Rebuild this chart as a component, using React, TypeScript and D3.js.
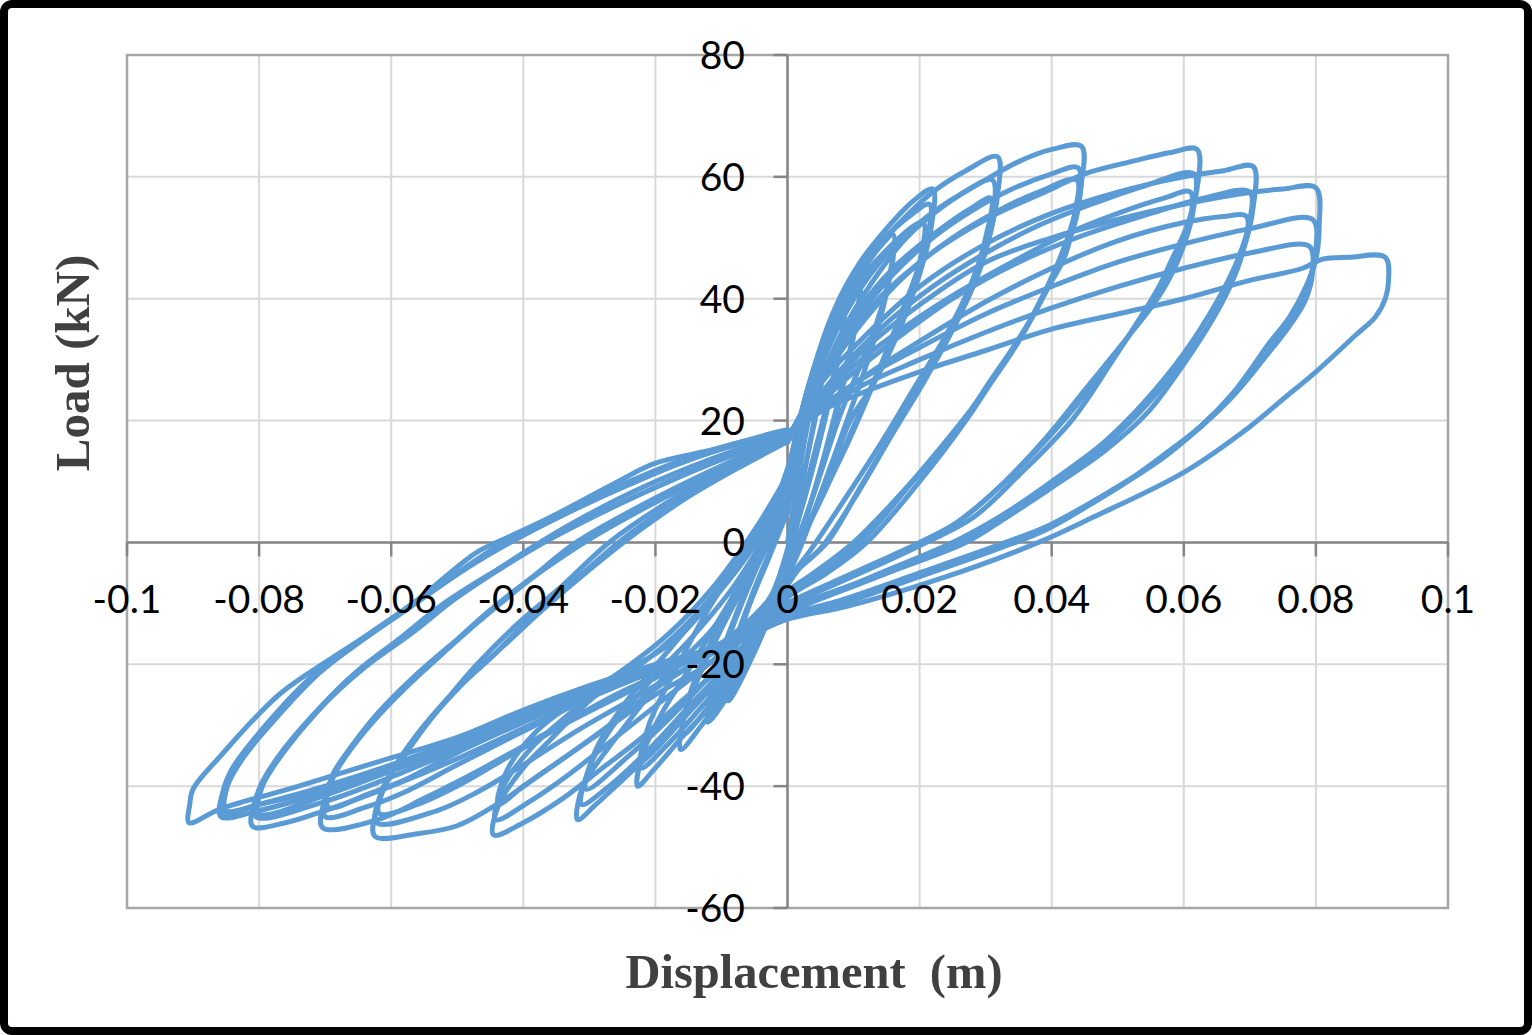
import * as d3 from 'd3'

type Pt = [number, number]

const X_TICKS = [-0.1, -0.08, -0.06, -0.04, -0.02, 0, 0.02, 0.04, 0.06, 0.08, 0.1]
const X_LABELS = ['-0.1', '-0.08', '-0.06', '-0.04', '-0.02', '0', '0.02', '0.04', '0.06', '0.08', '0.1']
const Y_TICKS = [-60, -40, -20, 0, 20, 40, 60, 80]

// cycles, [displacement (m), load (kN)], grouped by drift level
const LOOP_1: Pt[][] = [
  [[0, 0], [0.002, 13], [0.004, 25], [0.0055, 33], [0.0052, 28], [0.0035, 17], [0.0015, 6], [0, -2], [-0.002, -10], [-0.005, -18], [-0.009, -26], [-0.0085, -20], [-0.006, -11], [-0.003, -3], [0, 5]],
  [[0, 5], [0.002, 16], [0.004, 26], [0.0055, 31], [0.005, 25], [0.003, 14], [0.001, 3], [-0.002, -8], [-0.005, -16], [-0.0088, -24], [-0.0083, -18], [-0.0055, -9], [-0.0025, -1], [0, 6]],
]
const LOOP_2: Pt[][] = [
  [[0, 6], [0.002, 18], [0.0045, 29], [0.007, 36.5], [0.0085, 40], [0.0082, 34], [0.006, 23], [0.003, 10], [0.001, 1], [-0.002, -9], [-0.006, -19], [-0.0095, -26], [-0.0121, -29.5], [-0.0112, -23], [-0.008, -13], [-0.005, -5], [-0.002, 2], [0, 8]],
  [[0, 8], [0.003, 22], [0.006, 32], [0.0085, 37.5], [0.0078, 31], [0.0052, 18], [0.002, 5], [-0.001, -5], [-0.005, -15], [-0.009, -23], [-0.0118, -27.5], [-0.0108, -21], [-0.0075, -11], [-0.004, -2], [0, 8]],
]
const LOOP_3: Pt[][] = [
  [[0, 8], [0.003, 23], [0.006, 33], [0.009, 40.5], [0.011, 44], [0.0106, 38], [0.0085, 27], [0.0055, 14], [0.0025, 3], [-0.001, -7], [-0.005, -16], [-0.009, -24], [-0.013, -30], [-0.0162, -34], [-0.0155, -28], [-0.013, -21], [-0.009, -12], [-0.005, -4], [-0.002, 3], [0, 9]],
  [[0, 9], [0.004, 27], [0.008, 37], [0.011, 41.5], [0.0102, 35], [0.0078, 23], [0.0045, 10], [0.0015, 0], [-0.002, -9], [-0.007, -19], [-0.012, -27], [-0.0158, -31.5], [-0.0148, -25], [-0.011, -15], [-0.0065, -5], [-0.0025, 3], [0, 10]],
]
const LOOP_4: Pt[][] = [
  [[0, 10], [0.003, 25], [0.007, 37], [0.011, 44], [0.014, 48.5], [0.016, 50.5], [0.0155, 44], [0.0135, 36], [0.011, 29], [0.008, 21], [0.004, 8], [0.001, -1], [-0.002, -9], [-0.006, -18], [-0.011, -26], [-0.016, -32], [-0.02, -37], [-0.0227, -40], [-0.022, -35], [-0.019, -28], [-0.015, -21], [-0.01, -12], [-0.005, -3], [-0.002, 4], [0, 10]],
  [[0, 10], [0.004, 28], [0.008, 38], [0.012, 44.5], [0.0158, 48], [0.015, 41], [0.0125, 31], [0.009, 20], [0.005, 8], [0.0015, -2], [-0.002, -10], [-0.007, -19], [-0.013, -27], [-0.018, -33], [-0.0222, -37], [-0.021, -30], [-0.017, -21], [-0.012, -11], [-0.006, -1], [-0.002, 6], [0, 11]],
]
const LOOP_5: Pt[][] = [
  [[0, 11], [0.003, 25], [0.007, 38], [0.011, 46], [0.015, 51.5], [0.019, 56], [0.022, 58], [0.0218, 52], [0.02, 44], [0.017, 35], [0.013, 26], [0.0095, 20], [0.006, 10], [0.002, 0], [0, -5], [-0.005, -15], [-0.01, -22], [-0.015, -28], [-0.02, -34], [-0.025, -39], [-0.029, -43], [-0.0318, -45.5], [-0.031, -40], [-0.028, -35], [-0.025, -30.7], [-0.019, -22.5], [-0.012, -15], [-0.007, -8], [-0.003, 0], [0, 9]],
  [[0, 9], [0.004, 27], [0.009, 41], [0.014, 49], [0.019, 54], [0.0215, 55.5], [0.021, 49], [0.018, 39], [0.0145, 30], [0.01, 19], [0.0055, 8], [0.001, -2], [-0.003, -11], [-0.009, -20], [-0.015, -27], [-0.021, -34], [-0.027, -40], [-0.0312, -43], [-0.03, -37], [-0.027, -31], [-0.021, -23], [-0.014, -15], [-0.008, -7], [-0.003, 2], [0, 10]],
  [[0, 10], [0.005, 29], [0.01, 41], [0.015, 48], [0.0205, 52.5], [0.02, 46], [0.017, 37], [0.013, 26], [0.009, 16], [0.004, 5], [0, -4], [-0.005, -13], [-0.011, -21], [-0.018, -29], [-0.024, -35], [-0.0305, -40.5], [-0.029, -34], [-0.025, -27], [-0.019, -19], [-0.012, -10], [-0.006, -2], [-0.002, 5], [0, 11]],
]
const LOOP_6: Pt[][] = [
  [[0, 11], [0.003, 25], [0.007, 37], [0.012, 46.5], [0.017, 52.5], [0.022, 57.5], [0.027, 61], [0.0318, 63.3], [0.0318, 57], [0.0305, 50], [0.028, 42], [0.024, 33], [0.017, 20], [0.011, 9], [0.006, 0], [0.002, -4], [0, -7], [-0.005, -15], [-0.01, -20.5], [-0.016, -26], [-0.022, -32], [-0.028, -37], [-0.034, -42], [-0.04, -46], [-0.0445, -48], [-0.0437, -43], [-0.04, -37], [-0.036, -32.5], [-0.03, -26], [-0.024, -21], [-0.017, -16], [-0.011, -9], [-0.006, -2], [-0.002, 6], [0, 12]],
  [[0, 12], [0.004, 26], [0.009, 38], [0.014, 46], [0.02, 52.5], [0.026, 57], [0.031, 59.5], [0.0312, 54], [0.0295, 46], [0.026, 37], [0.021, 27], [0.016, 18], [0.01, 7], [0.005, -1], [0, -6], [-0.006, -14], [-0.012, -20], [-0.019, -26], [-0.026, -32], [-0.033, -38], [-0.039, -42.5], [-0.0442, -45.5], [-0.043, -40], [-0.039, -34], [-0.034, -29], [-0.028, -24], [-0.021, -19], [-0.014, -12], [-0.008, -4], [-0.003, 4], [0, 12]],
  [[0, 12], [0.005, 27], [0.01, 37], [0.016, 45], [0.022, 50.5], [0.028, 55], [0.0308, 56.5], [0.03, 50], [0.028, 43], [0.024, 34], [0.019, 25], [0.014, 16], [0.008, 6], [0.003, -2], [0, -6], [-0.006, -13], [-0.013, -19], [-0.02, -24], [-0.027, -30], [-0.034, -35.5], [-0.04, -40], [-0.0438, -43], [-0.0425, -37.5], [-0.038, -31], [-0.032, -26], [-0.025, -21], [-0.018, -15], [-0.011, -7], [-0.005, 2], [0, 11]],
]
const LOOP_7: Pt[][] = [
  [[0, 11], [0.004, 24], [0.008, 34], [0.013, 43], [0.018, 50], [0.024, 55.5], [0.03, 59.5], [0.035, 62.5], [0.04, 64.5], [0.0445, 65], [0.0445, 59], [0.043, 52], [0.041, 46], [0.037, 37], [0.033, 30], [0.027, 20], [0.02, 10], [0.012, 0], [0.006, -5], [0, -9], [-0.006, -15], [-0.012, -20], [-0.02, -25], [-0.028, -31], [-0.036, -37], [-0.044, -43], [-0.05, -46.5], [-0.056, -47.8], [-0.0625, -48.2], [-0.062, -43], [-0.06, -38], [-0.056, -31.5], [-0.051, -25], [-0.047, -20], [-0.041, -13.5], [-0.034, -7], [-0.027, 0], [-0.019, 6], [-0.011, 11], [-0.004, 15], [0, 17]],
  [[0, 17], [0.005, 27], [0.01, 36], [0.016, 44], [0.022, 50], [0.028, 54.5], [0.034, 58], [0.04, 60.5], [0.044, 61.5], [0.0442, 56], [0.0425, 49], [0.04, 43], [0.036, 35], [0.031, 27], [0.026, 19], [0.019, 10], [0.011, 0], [0.005, -5], [0, -9], [-0.008, -16], [-0.016, -21], [-0.024, -26], [-0.032, -31], [-0.04, -36.5], [-0.047, -41], [-0.053, -44], [-0.0622, -46], [-0.0615, -41], [-0.059, -36], [-0.055, -30], [-0.05, -24], [-0.045, -19], [-0.039, -12.5], [-0.032, -6], [-0.025, 0.5], [-0.017, 6.5], [-0.009, 11.5], [-0.003, 15], [0, 17]],
  [[0, 17], [0.006, 28], [0.012, 37], [0.018, 44], [0.025, 50], [0.032, 54.5], [0.038, 57.5], [0.0438, 59.5], [0.0435, 54], [0.042, 47], [0.039, 41], [0.035, 33], [0.03, 25], [0.025, 18], [0.018, 9], [0.01, 0], [0.004, -5], [0, -8], [-0.008, -15.5], [-0.016, -20], [-0.025, -25], [-0.034, -30], [-0.042, -35], [-0.05, -40], [-0.056, -43], [-0.0618, -44.5], [-0.061, -40], [-0.058, -35], [-0.054, -29], [-0.049, -23], [-0.043, -17], [-0.037, -11], [-0.03, -4.5], [-0.023, 1.5], [-0.015, 7.5], [-0.007, 12.5], [0, 16.5]],
]
const LOOP_8: Pt[][] = [
  [[0, 16.5], [0.005, 27], [0.01, 35.5], [0.02, 46], [0.03, 53], [0.04, 58], [0.045, 60.5], [0.052, 62.5], [0.058, 64], [0.062, 64.5], [0.062, 58], [0.0605, 52], [0.058, 46], [0.056, 41.5], [0.049, 29.5], [0.043, 20], [0.035, 11], [0.028, 4], [0.021, 0], [0.011, -5], [0, -10], [-0.008, -16], [-0.016, -20], [-0.026, -25], [-0.036, -31], [-0.046, -37], [-0.055, -42], [-0.062, -45.5], [-0.0704, -46.8], [-0.07, -42], [-0.068, -37], [-0.064, -31], [-0.058, -24], [-0.053, -19], [-0.046, -12], [-0.039, -6], [-0.032, 0], [-0.024, 5], [-0.015, 10], [-0.007, 14], [0, 17]],
  [[0, 17], [0.007, 27], [0.014, 35], [0.022, 42], [0.03, 47.5], [0.038, 52], [0.046, 55.5], [0.054, 58.5], [0.0615, 60.5], [0.0615, 55], [0.06, 49], [0.057, 43], [0.053, 36], [0.047, 27], [0.041, 19], [0.033, 10], [0.026, 3.5], [0.02, 0], [0.01, -5], [0, -10], [-0.01, -16.5], [-0.02, -21], [-0.03, -25.5], [-0.04, -31], [-0.05, -36.5], [-0.058, -41], [-0.064, -43.5], [-0.07, -45], [-0.0695, -40], [-0.067, -35], [-0.063, -29.5], [-0.057, -23], [-0.051, -17], [-0.044, -10.5], [-0.037, -4.5], [-0.03, 0.5], [-0.021, 6], [-0.012, 11], [-0.005, 15], [0, 16.5]],
  [[0, 16.5], [0.008, 27], [0.016, 34], [0.025, 40.5], [0.034, 46], [0.042, 50.5], [0.05, 54], [0.057, 56.5], [0.061, 57.5], [0.0608, 52], [0.059, 46], [0.056, 40], [0.051, 33], [0.045, 25], [0.039, 17], [0.031, 8], [0.024, 2], [0.019, -1], [0.009, -6], [0, -10.5], [-0.01, -16.5], [-0.02, -20.5], [-0.03, -24.5], [-0.04, -29.5], [-0.05, -34.5], [-0.058, -39], [-0.064, -41.5], [-0.0695, -43.5], [-0.069, -38.5], [-0.066, -33.5], [-0.062, -28], [-0.056, -21.5], [-0.049, -15], [-0.042, -8.5], [-0.035, -3], [-0.028, 2], [-0.019, 7.5], [-0.01, 12], [-0.003, 15.5], [0, 16.5]],
]
const LOOP_9: Pt[][] = [
  [[0, 16.5], [0.005, 26], [0.01, 32], [0.02, 42], [0.03, 49], [0.04, 54], [0.05, 57.5], [0.06, 60], [0.066, 61], [0.0705, 61.7], [0.0705, 55], [0.069, 48], [0.066, 41], [0.0645, 37], [0.0595, 28.5], [0.0545, 21.3], [0.048, 15], [0.04, 9], [0.033, 4], [0.027, 0], [0.015, -5], [0, -11], [-0.01, -17], [-0.02, -21], [-0.03, -25.5], [-0.04, -30.5], [-0.05, -35.5], [-0.06, -40], [-0.07, -44], [-0.076, -46], [-0.081, -46.6], [-0.0805, -42], [-0.078, -37], [-0.073, -30], [-0.066, -22], [-0.061, -18], [-0.054, -12], [-0.046, -6], [-0.039, -1], [-0.032, 3.5], [-0.022, 9], [-0.012, 13.5], [-0.004, 16.5], [0, 17.5]],
  [[0, 17.5], [0.008, 26], [0.016, 33], [0.025, 40], [0.035, 46], [0.045, 50.5], [0.055, 54], [0.063, 56.5], [0.07, 57.5], [0.0698, 52], [0.068, 46], [0.065, 39.5], [0.06, 31], [0.054, 23], [0.048, 16.5], [0.04, 10], [0.032, 4], [0.026, 0], [0.014, -5.5], [0, -11.5], [-0.01, -17], [-0.02, -21], [-0.03, -25], [-0.04, -29.5], [-0.05, -34], [-0.06, -38.5], [-0.07, -42.5], [-0.0805, -45], [-0.08, -40.5], [-0.077, -35], [-0.072, -28.5], [-0.065, -21], [-0.059, -16], [-0.052, -10], [-0.044, -4.5], [-0.037, 0], [-0.029, 4.5], [-0.019, 9.5], [-0.009, 14], [0, 17]],
  [[0, 17], [0.01, 26], [0.02, 33], [0.03, 39.5], [0.04, 45], [0.05, 49.5], [0.06, 52.5], [0.066, 53.5], [0.0695, 53.5], [0.069, 48], [0.067, 42], [0.064, 36], [0.059, 28.5], [0.053, 21], [0.047, 15], [0.039, 9], [0.031, 3.5], [0.025, 0], [0.013, -5.5], [0, -11.5], [-0.01, -17], [-0.02, -20.5], [-0.03, -24.5], [-0.04, -29], [-0.05, -33.5], [-0.06, -37.5], [-0.07, -41.5], [-0.08, -44.5], [-0.0795, -40], [-0.076, -34], [-0.071, -27.5], [-0.064, -20.5], [-0.057, -15], [-0.05, -9], [-0.043, -4], [-0.036, 0.5], [-0.027, 5.5], [-0.017, 10.5], [-0.008, 14.5], [0, 17]],
]
const LOOP_10: Pt[][] = [
  [[0, 17], [0.01, 30], [0.02, 39], [0.03, 46], [0.04, 50], [0.05, 53], [0.06, 55.5], [0.0705, 57.5], [0.075, 58], [0.08, 58.2], [0.0805, 52], [0.08, 46.5], [0.0785, 42], [0.076, 37], [0.073, 32.8], [0.0675, 24.6], [0.0625, 19], [0.0575, 14.8], [0.05, 9], [0.04, 3], [0.033, 0], [0.02, -5], [0.008, -9.5], [0, -12], [-0.01, -17.5], [-0.02, -21], [-0.03, -24.5], [-0.04, -29], [-0.05, -33.5], [-0.06, -37.5], [-0.07, -41], [-0.08, -44], [-0.0858, -45], [-0.0855, -41], [-0.084, -37], [-0.079, -30], [-0.072, -22], [-0.066, -17], [-0.058, -11], [-0.05, -5], [-0.043, 0], [-0.035, 4.5], [-0.025, 9.5], [-0.016, 13.5], [-0.007, 16.5], [0, 18]],
  [[0, 18], [0.01, 26], [0.02, 32], [0.03, 37.5], [0.04, 42], [0.05, 46], [0.06, 49], [0.07, 51.5], [0.0795, 53], [0.08, 48], [0.079, 43], [0.077, 38], [0.074, 33], [0.069, 26], [0.063, 19.5], [0.057, 14], [0.049, 8.5], [0.04, 3], [0.033, -0.5], [0.02, -5.5], [0.008, -10], [0, -12.5], [-0.01, -17.5], [-0.02, -21], [-0.03, -24.5], [-0.04, -28.5], [-0.05, -33], [-0.06, -37], [-0.07, -40.5], [-0.08, -43], [-0.085, -44], [-0.0848, -40], [-0.0825, -35.5], [-0.078, -29.5], [-0.071, -21.5], [-0.065, -16.5], [-0.057, -10.5], [-0.049, -4.5], [-0.042, 0], [-0.034, 4.5], [-0.024, 9.5], [-0.015, 13.5], [-0.006, 16.5], [0, 17.5]],
  [[0, 17.5], [0.01, 25], [0.02, 30], [0.03, 34.5], [0.04, 38.5], [0.05, 42], [0.06, 45], [0.07, 47.5], [0.079, 48.6], [0.0795, 44.5], [0.0785, 40], [0.076, 35.5], [0.072, 30], [0.067, 23.5], [0.061, 17.5], [0.055, 12.5], [0.047, 7], [0.039, 2], [0.032, -1], [0.019, -6], [0.007, -10.5], [0, -12.5], [-0.01, -17], [-0.02, -20.5], [-0.03, -24], [-0.04, -28], [-0.05, -32.5], [-0.06, -36.5], [-0.07, -40], [-0.08, -43], [-0.0855, -44.5], [-0.085, -40.5], [-0.083, -36], [-0.078, -29.5], [-0.071, -21.5], [-0.065, -16.5], [-0.057, -10.5], [-0.049, -4.5], [-0.042, 0], [-0.034, 4.5], [-0.024, 9.5], [-0.015, 13.5], [-0.006, 16.5], [0, 17.5]],
]
const LOOP_11: Pt[][] = [
  [[0, 17.5], [0.005, 21.5], [0.01, 24], [0.02, 28], [0.03, 31.5], [0.04, 35], [0.05, 37.5], [0.06, 40], [0.07, 43], [0.078, 45], [0.081, 46.5], [0.085, 46.8], [0.0905, 46.8], [0.091, 43], [0.0905, 40], [0.089, 37], [0.086, 34], [0.08, 28], [0.075, 23.5], [0.07, 19], [0.06, 11.5], [0.046, 4], [0.038, 0], [0.023, -6], [0.009, -10.5], [0, -12.6], [-0.01, -17], [-0.02, -20], [-0.03, -23.5], [-0.04, -27.5], [-0.05, -32], [-0.062, -36], [-0.074, -40], [-0.086, -43.8], [-0.0906, -46], [-0.0905, -43], [-0.09, -40.5], [-0.0858, -35], [-0.077, -25], [-0.069, -19], [-0.063, -14.8], [-0.056, -9.4], [-0.047, -1.6], [-0.042, 1], [-0.0356, 4.3], [-0.026, 9.8], [-0.02, 13], [-0.011, 15.3], [-0.002, 18], [0, 18.5]],
]

const LOOPS = [LOOP_1, LOOP_2, LOOP_3, LOOP_4, LOOP_5, LOOP_6, LOOP_7, LOOP_8, LOOP_9, LOOP_10, LOOP_11]

export default function App() {
  const W = 1532
  const H = 1035
  const left = 127, right = 1448, top = 55, bottom = 908

  const x = d3.scaleLinear().domain([-0.1, 0.1]).range([left, right])
  const y = d3.scaleLinear().domain([-60, 80]).range([bottom, top])

  const line = d3.line<Pt>()
    .x(d => x(d[0]))
    .y(d => y(d[1]))
    .curve(d3.curveCatmullRom.alpha(0.5))

  const cycles = LOOPS.flat()
  const tickFont = 'Lato, "Open Sans", sans-serif'
  const titleFont = '"Liberation Serif", "DejaVu Serif", serif'

  return (
    <svg width={W} height={H} style={{ position: 'absolute', left: 0, top: 0, background: '#fff' }}>
      <rect x={0} y={0} width={W} height={H} fill="#fff" />

      {/* gridlines */}
      {X_TICKS.map(t => (
        <line key={'gx' + t} x1={x(t)} x2={x(t)} y1={top} y2={bottom} stroke="#d9d9d9" strokeWidth={2} />
      ))}
      {Y_TICKS.map(t => (
        <line key={'gy' + t} x1={left} x2={right} y1={y(t)} y2={y(t)} stroke="#d9d9d9" strokeWidth={2} />
      ))}

      {/* plot area border */}
      <rect x={left} y={top} width={right - left} height={bottom - top} fill="none" stroke="#a6a6a6" strokeWidth={2.5} />

      {/* axes through zero */}
      <line x1={x(0)} x2={x(0)} y1={top} y2={bottom} stroke="#868686" strokeWidth={2.5} />
      <line x1={left} x2={right} y1={y(0)} y2={y(0)} stroke="#868686" strokeWidth={2.5} />
      {Y_TICKS.map(t => (
        <line key={'ty' + t} x1={x(0) - 14} x2={x(0)} y1={y(t)} y2={y(t)} stroke="#868686" strokeWidth={2.5} />
      ))}
      {X_TICKS.map(t => (
        <line key={'tx' + t} x1={x(t)} x2={x(t)} y1={y(0)} y2={y(0) + 14} stroke="#868686" strokeWidth={2.5} />
      ))}

      {/* hysteresis loops */}
      <g fill="none" stroke="#5b9bd5" strokeWidth={5} strokeLinejoin="round" strokeLinecap="round">
        {cycles.map((c, i) => (
          <path key={i} d={line(c) ?? ''} />
        ))}
      </g>

      {/* tick labels */}
      {X_TICKS.map((t, i) => (
        <text key={'lx' + t} x={x(t)} y={y(0) + 71} textAnchor="middle" fontFamily={tickFont} fontSize={39} fill="#000">
          {X_LABELS[i]}
        </text>
      ))}
      {Y_TICKS.map(t => (
        <text key={'ly' + t} x={745} y={y(t)} dy="0.36em" textAnchor="end" fontFamily={tickFont} fontSize={39} fill="#000">
          {t}
        </text>
      ))}

      {/* axis titles */}
      <text x={814} y={988} textAnchor="middle" fontFamily={titleFont} fontWeight="bold" fontSize={48.5} fill="#404040" style={{ whiteSpace: 'pre' }}>
        {'Displacement  (m)'}
      </text>
      <text transform={`translate(89,${363}) rotate(-90)`} textAnchor="middle" fontFamily={titleFont} fontWeight="bold" fontSize={49} fill="#404040">
        Load (kN)
      </text>

      {/* outer frame */}
      <rect x={4} y={4} width={W - 8} height={H - 8} rx={8} fill="none" stroke="#000" strokeWidth={8} />
    </svg>
  )
}
